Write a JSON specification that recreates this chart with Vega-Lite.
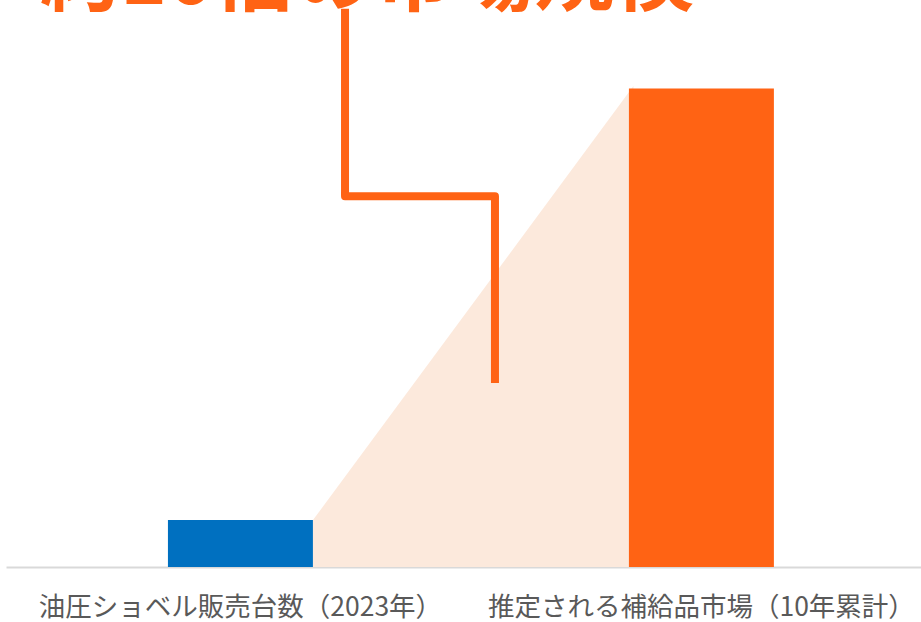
{
  "$schema": "https://vega.github.io/schema/vega-lite/v6.json",
  "autosize": {"type": "none"},
  "width": 915,
  "height": 563,
  "padding": {"left": 6, "top": 4, "right": 0, "bottom": 55},
  "background": "white",
  "config": {"view": {"stroke": null}, "font": "Noto Sans CJK JP"},
  "datasets": {
    "bars": [
      {"category": "油圧ショベル販売台数（2023年）", "value": 1.0},
      {"category": "推定される補給品市場（10年累計）", "value": 10.2}
    ],
    "shade": [
      {"pos": 1.0, "value": 1.0},
      {"pos": 3.21, "value": 10.25}
    ],
    "connector": [
      {"order": 1, "pos": 1.221, "value": 11.9},
      {"order": 2, "pos": 1.221, "value": 7.9},
      {"order": 3, "pos": 2.255, "value": 7.9},
      {"order": 4, "pos": 2.255, "value": 3.92}
    ],
    "headline": [
      {"text": "約10倍の市場規模", "pos": -0.883, "value": 12.0}
    ]
  },
  "layer": [
    {
      "data": {"name": "shade"},
      "mark": {"type": "area", "color": "#FCE9DC", "opacity": 1},
      "encoding": {
        "x": {"field": "pos", "type": "quantitative", "scale": {"domain": [-1.117, 5.193], "nice": false, "zero": false}, "axis": null},
        "y": {"field": "value", "type": "quantitative", "scale": {"domain": [0, 12], "nice": false}, "axis": null}
      }
    },
    {
      "data": {"name": "bars"},
      "mark": {"type": "bar"},
      "encoding": {
        "x": {
          "field": "category", "type": "nominal", "sort": null,
          "scale": {"paddingInner": 0.6855, "paddingOuter": 0.3352, "align": 0.524},
          "axis": {
            "title": null, "ticks": false, "labelAngle": 0,
            "domainColor": "#D9D9D9", "domainWidth": 2,
            "labelFontSize": 26.5, "labelColor": "#595959", "labelPadding": 27,
            "labelLimit": 0, "labelOverlap": false,
            "labelFont": "Noto Sans CJK JP", "labelFontWeight": "normal", "grid": false
          }
        },
        "y": {"field": "value", "type": "quantitative", "scale": {"domain": [0, 12], "nice": false}, "axis": null},
        "color": {
          "field": "category", "type": "nominal", "legend": null,
          "scale": {"domain": ["油圧ショベル販売台数（2023年）", "推定される補給品市場（10年累計）"], "range": ["#0070C0", "#FF6314"]}
        }
      }
    },
    {
      "data": {"name": "connector"},
      "mark": {"type": "line", "color": "#FF6314", "strokeWidth": 8, "strokeJoin": "round", "strokeCap": "butt", "clip": false},
      "encoding": {
        "x": {"field": "pos", "type": "quantitative", "scale": {"domain": [-1.117, 5.193], "nice": false, "zero": false}, "axis": null},
        "y": {"field": "value", "type": "quantitative", "scale": {"domain": [0, 12], "nice": false}, "axis": null},
        "order": {"field": "order", "type": "quantitative"}
      }
    },
    {
      "data": {"name": "headline"},
      "mark": {"type": "text", "color": "#FF6314", "fontSize": 80, "fontWeight": "bold", "font": "Noto Sans CJK JP", "align": "left", "baseline": "alphabetic", "clip": false},
      "encoding": {
        "x": {"field": "pos", "type": "quantitative", "scale": {"domain": [-1.117, 5.193], "nice": false, "zero": false}, "axis": null},
        "y": {"field": "value", "type": "quantitative", "scale": {"domain": [0, 12], "nice": false}, "axis": null},
        "text": {"field": "text"}
      }
    }
  ],
  "resolve": {"scale": {"x": "independent"}}
}
